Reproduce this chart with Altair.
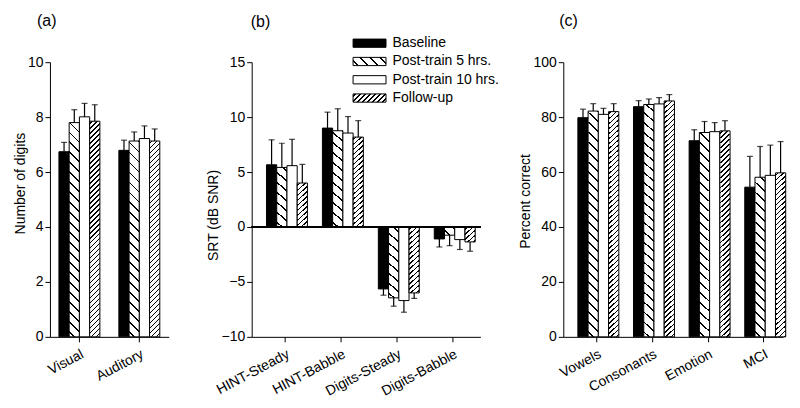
import json
import altair as alt
import pandas as pd

FONT = "Liberation Sans"
PLOT_H = 275

series = ["Baseline", "Post-train 5 hrs.", "Post-train 10 hrs.", "Follow-up"]

# panel (a)
a_cats = ["Visual", "Auditory"]
a_means = [[6.74, 6.79], [7.80, 7.13], [8.01, 7.22], [7.85, 7.13]]
a_errs = [[0.34, 0.37], [0.47, 0.33], [0.49, 0.46], [0.60, 0.44]]

# panel (b)
b_cats = ["HINT-Steady", "HINT-Babble", "Digits-Steady", "Digits-Babble"]
b_means = [[5.66, 9.00, -5.64, -1.09],
           [5.42, 8.76, -6.45, -0.75],
           [5.58, 8.55, -6.70, -1.15],
           [4.00, 8.18, -6.00, -1.36]]
b_errs = [[2.27, 1.45, 0.57, 0.73],
          [2.20, 2.00, 0.76, 0.95],
          [2.40, 1.50, 1.06, 0.90],
          [1.70, 1.50, 0.50, 0.85]]

# panel (c)
c_cats = ["Vowels", "Consonants", "Emotion", "MCI"]
c_means = [[79.8, 83.8, 71.4, 54.5],
           [82.2, 84.6, 74.4, 58.1],
           [81.0, 84.8, 74.7, 58.8],
           [82.0, 85.9, 75.0, 59.7]]
c_errs = [[3.1, 2.2, 4.0, 11.2],
          [2.7, 2.0, 4.0, 11.2],
          [2.2, 2.3, 3.3, 11.0],
          [2.9, 2.3, 3.7, 11.4]]


def hatch(w, h, kind):
    """Linear gradient (bbox units) that draws 45 degree stripes on a w x h box."""
    L = w + h
    k = L / (w * w + h * h)
    if kind == "back":      # "\" stripes
        period, thick = 10.0, 1.3
        g = dict(gradient="linear", x1=0, y1=1, x2=w * k, y2=1 - h * k)
    else:                   # "/" stripes
        period, thick = 5.0, 1.1
        g = dict(gradient="linear", x1=0, y1=0, x2=w * k, y2=h * k)
    d = thick * 1.4142 / 2
    stops = [dict(offset=0, color="white")]
    c = period / 2
    while c - d < L:
        a0 = max(0.0, (c - d) / L)
        a1 = min(1.0, (c + d) / L)
        stops += [dict(offset=round(a0, 5), color="white"),
                  dict(offset=round(a0, 5), color="black"),
                  dict(offset=round(a1, 5), color="black"),
                  dict(offset=round(a1, 5), color="white")]
        c += period
    stops.append(dict(offset=1, color="white"))
    g["stops"] = stops
    return g


def bandwidth(n, width, pi, po):
    step = width / max(1, n - pi + 2 * po)
    return step * (1 - pi)


def panel(cats, means, errs, ydom, yvals, width, pi, po, al, label, dx, toff, ytitle, ty,
          legend=False, zero_line=False):
    rows = []
    for si, s in enumerate(series):
        for ci, c in enumerate(cats):
            m = means[si][ci]
            e = errs[si][ci]
            rows.append(dict(cat=c, series=s, mean=m, end=m + (e if m >= 0 else -e)))
    df = pd.DataFrame(rows)

    bw = bandwidth(len(cats), width, pi, po) / 4
    ppu = PLOT_H / (ydom[1] - ydom[0])
    conds = []
    for si, kind in ((1, "back"), (3, "fwd")):
        for ci, c in enumerate(cats):
            h = abs(means[si][ci]) * ppu
            conds.append({"test": f"datum.cat === '{c}' && datum.series === '{series[si]}'",
                          "value": hatch(bw, h, kind)})

    x = alt.X("cat:N", sort=cats,
              scale=alt.Scale(paddingInner=pi, paddingOuter=po, align=al),
              axis=alt.Axis(title=None, labelAngle=-28, labelPadding=5))
    xo = alt.XOffset("series:N", sort=series,
                     scale=alt.Scale(paddingInner=0, paddingOuter=0))
    yscale = alt.Scale(domain=ydom, nice=False, zero=False)
    yaxis = alt.Axis(values=yvals, title=ytitle, titlePadding=0, titleY=ty)

    if legend:
        lw, lh = 33.0, 8.25
        rng = ["black",
               {"expr": json.dumps(hatch(lw, lh, "back"))},
               "white",
               {"expr": json.dumps(hatch(lw, lh, "fwd"))}]
        fill = alt.Fill("series:N", sort=series,
                        scale=alt.Scale(domain=series, range=rng),
                        legend=alt.Legend(title=None, orient="none", legendX=111, legendY=-26,
                                          symbolType="M-4,-1H4V1H-4Z", symbolSize=68,
                                          symbolStrokeColor="black", symbolStrokeWidth=1,
                                          labelOffset=16, rowPadding=4.3, padding=0,
                                          labelFontSize=14, labelFont=FONT, labelColor="black"),
                        condition=conds)
    else:
        fill = alt.value("white", condition=[{"test": "datum.series === 'Baseline'", "value": "black"}] + conds)

    base = alt.Chart(df)
    bars = base.mark_bar(stroke="black", strokeWidth=1).encode(
        x=x, xOffset=xo,
        y=alt.Y("mean:Q", scale=yscale, axis=yaxis, title=ytitle),
        fill=fill,
    )
    err = base.mark_rule(color="black", strokeWidth=1.2).encode(
        x=x, xOffset=xo,
        y=alt.Y("mean:Q", scale=yscale, axis=yaxis, title=ytitle),
        y2="end:Q",
    )
    cap = base.mark_tick(color="black", thickness=1.2, size=6).encode(
        x=x, xOffset=xo,
        y=alt.Y("end:Q", scale=yscale, axis=yaxis, title=ytitle),
    )
    layers = [bars, err, cap]
    if zero_line:
        layers.append(base.mark_rule(color="black", strokeWidth=1).encode(
            y=alt.datum(0, scale=yscale, axis=yaxis, title=ytitle)))
    return alt.layer(*layers).properties(
        width=width, height=PLOT_H,
        title=alt.TitleParams(label, anchor="start", frame="group", dx=dx, offset=toff,
                              fontSize=16, fontWeight="normal", font=FONT, color="black"),
    )


pa = panel(a_cats, a_means, a_errs, [0, 10], [0, 2, 4, 6, 8, 10], 119,
           0.3167, 0.15, 0.5, "(a)", -13, 26, "Number of digits", 121)
pb = panel(b_cats, b_means, b_errs, [-10, 15], [-10, -5, 0, 5, 10, 15], 229,
           0.3304, 0.21, 0.63, "(b)", -1, 6, "SRT (dB SNR)", 153,
           legend=True, zero_line=True)
pc = panel(c_cats, c_means, c_errs, [0, 100], [0, 20, 40, 60, 80, 100], 220,
           0.3124, 0.131, 1.0, "(c)", -4, 26, "Percent correct", 139)

chart = alt.hconcat(pa, pb, pc, spacing=83, bounds="flush").resolve_scale(
    y="independent", x="independent", fill="independent"
).resolve_legend(fill="independent").configure_view(stroke=None).configure_axis(
    domainColor="black", tickColor="black", labelColor="black", titleColor="black",
    labelFont=FONT, titleFont=FONT, labelFontSize=14, titleFontSize=14,
    titleFontWeight="normal", tickSize=5, grid=False, domainWidth=1, tickWidth=1,
)

chart.save("out.html", embed_options={"renderer": "svg", "actions": False})
